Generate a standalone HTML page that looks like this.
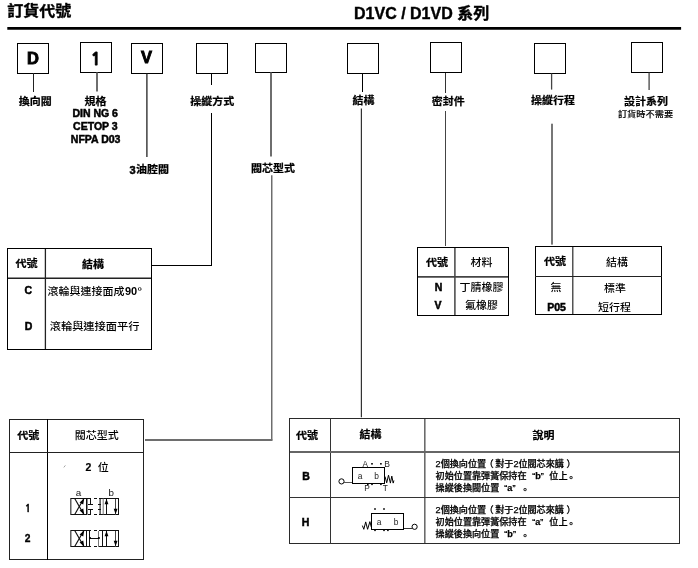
<!DOCTYPE html>
<html lang="zh-Hant">
<head>
<meta charset="utf-8">
<title>訂貨代號 D1VC / D1VD 系列</title>
<style>
html,body{margin:0;padding:0;background:#fff;}
body{width:698px;height:568px;overflow:hidden;}
svg{display:block;will-change:transform;}
text{font-family:"Liberation Sans","Noto Sans CJK TC","Noto Sans CJK SC",sans-serif;}
</style>
</head>
<body>
<svg width="698" height="568" viewBox="0 0 698 568">
<line x1="7.3" y1="28.45" x2="681.1" y2="28.45" stroke="#000" stroke-width="2.8"/>
<text transform="translate(7.3 16.1) scale(1 0.94)" font-size="16" font-weight="bold" text-anchor="start" fill="#000" stroke="#000" stroke-width="0.35">訂貨代號</text>
<text x="354" y="18.8" font-size="16" font-weight="bold" text-anchor="start" fill="#000" stroke="#000" stroke-width="0.4">D1VC / D1VD 系列</text>
<rect x="17.5" y="43.5" width="31" height="30" fill="none" stroke="#000" stroke-width="1" shape-rendering="crispEdges"/>
<rect x="80.5" y="42.5" width="31" height="30" fill="none" stroke="#000" stroke-width="1" shape-rendering="crispEdges"/>
<rect x="131.5" y="43.5" width="31" height="30" fill="none" stroke="#000" stroke-width="1" shape-rendering="crispEdges"/>
<rect x="196.5" y="43.5" width="31" height="30" fill="none" stroke="#000" stroke-width="1" shape-rendering="crispEdges"/>
<rect x="255.5" y="43.5" width="31" height="29" fill="none" stroke="#000" stroke-width="1" shape-rendering="crispEdges"/>
<rect x="347.5" y="43.5" width="31" height="30" fill="none" stroke="#000" stroke-width="1" shape-rendering="crispEdges"/>
<rect x="430.5" y="42.5" width="31" height="30" fill="none" stroke="#000" stroke-width="1" shape-rendering="crispEdges"/>
<rect x="534.5" y="43.5" width="31" height="30" fill="none" stroke="#000" stroke-width="1" shape-rendering="crispEdges"/>
<rect x="631.5" y="42.5" width="31" height="30" fill="none" stroke="#000" stroke-width="1" shape-rendering="crispEdges"/>
<text x="33" y="63.7" font-size="16.5" font-weight="bold" text-anchor="middle" fill="#000" stroke="#000" stroke-width="0.9">D</text>
<text x="95.8" y="64.5" font-size="17.5" font-weight="bold" text-anchor="middle" fill="#000" stroke="#000" stroke-width="0.9" style="font-family:NanumGothic,'Liberation Sans',sans-serif">1</text>
<text x="146.5" y="63.2" font-size="16.5" font-weight="bold" text-anchor="middle" fill="#000" stroke="#000" stroke-width="0.9">V</text>
<line x1="33.5" y1="73" x2="33.5" y2="92" stroke="#222" stroke-width="1" shape-rendering="crispEdges"/>
<text transform="translate(35.3 104.8) scale(1 0.9)" font-size="11" font-weight="bold" text-anchor="middle" fill="#000" stroke="#000" stroke-width="0.25">換向閥</text>
<rect x="96" y="72.5" width="2" height="19" fill="#6e6e6e"/>
<text transform="translate(95.6 104.6) scale(1 0.9)" font-size="11" font-weight="bold" text-anchor="middle" fill="#000" stroke="#000" stroke-width="0.25">規格</text>
<text x="95.2" y="117.1" font-size="10.5" font-weight="bold" text-anchor="middle" fill="#000" stroke="#000" stroke-width="0.5">DIN NG 6</text>
<text x="95.4" y="130.1" font-size="10.5" font-weight="bold" text-anchor="middle" fill="#000" stroke="#000" stroke-width="0.5">CETOP 3</text>
<text x="95.6" y="142.7" font-size="10.5" font-weight="bold" text-anchor="middle" fill="#000" stroke="#000" stroke-width="0.5">NFPA D03</text>
<line x1="146.9" y1="73.5" x2="146.9" y2="157" stroke="#222" stroke-width="1.3"/>
<text x="135.7" y="173.8" font-size="11" font-weight="bold" text-anchor="end" fill="#000" stroke="#000" stroke-width="0.5">3</text>
<text transform="translate(136 173) scale(1 0.9)" font-size="11" font-weight="bold" text-anchor="start" fill="#000" stroke="#000" stroke-width="0.25">油腔閥</text>
<line x1="211.5" y1="73" x2="211.5" y2="85" stroke="#000" stroke-width="1" shape-rendering="crispEdges"/>
<text transform="translate(212.2 104.8) scale(1 0.9)" font-size="11" font-weight="bold" text-anchor="middle" fill="#000" stroke="#000" stroke-width="0.25">操縱方式</text>
<line x1="211.5" y1="113" x2="211.5" y2="266" stroke="#000" stroke-width="1" shape-rendering="crispEdges"/>
<line x1="152" y1="265.5" x2="212" y2="265.5" stroke="#000" stroke-width="1" shape-rendering="crispEdges"/>
<rect x="270" y="72.5" width="2" height="84" fill="#6e6e6e"/>
<text transform="translate(273 171.7) scale(1 0.9)" font-size="11" font-weight="bold" text-anchor="middle" fill="#000" stroke="#000" stroke-width="0.25">閥芯型式</text>
<line x1="271.8" y1="175.2" x2="271.8" y2="440.5" stroke="#444" stroke-width="1.15"/>
<rect x="145" y="439" width="127.4" height="2" fill="#6e6e6e"/>
<line x1="362.5" y1="73" x2="362.5" y2="92" stroke="#000" stroke-width="1" shape-rendering="crispEdges"/>
<text transform="translate(363.5 104) scale(1 0.9)" font-size="11" font-weight="bold" text-anchor="middle" fill="#000" stroke="#000" stroke-width="0.25">結構</text>
<line x1="361.4" y1="108.5" x2="361.4" y2="417.2" stroke="#333" stroke-width="1.2"/>
<line x1="445.5" y1="72.5" x2="445.5" y2="93" stroke="#333" stroke-width="1" shape-rendering="crispEdges"/>
<text transform="translate(448.3 105.3) scale(1 0.9)" font-size="11" font-weight="bold" text-anchor="middle" fill="#000" stroke="#000" stroke-width="0.25">密封件</text>
<line x1="445.5" y1="110.6" x2="445.5" y2="246" stroke="#444" stroke-width="1" shape-rendering="crispEdges"/>
<line x1="551.6" y1="73.5" x2="551.6" y2="89.6" stroke="#444" stroke-width="1.3"/>
<text transform="translate(552.9 103.9) scale(1 0.9)" font-size="11" font-weight="bold" text-anchor="middle" fill="#000" stroke="#000" stroke-width="0.25">操縱行程</text>
<rect x="551" y="123.7" width="2" height="120.9" fill="#777"/>
<line x1="649.1" y1="72.5" x2="649.1" y2="90" stroke="#444" stroke-width="1.3"/>
<text transform="translate(646 105.3) scale(1 0.9)" font-size="11" font-weight="bold" text-anchor="middle" fill="#000" stroke="#000" stroke-width="0.25">設計系列</text>
<text transform="translate(645.5 117) scale(1 0.9)" font-size="9.2" font-weight="500" text-anchor="middle" fill="#000" stroke="#000" stroke-width="0.15">訂貨時不需要</text>
<rect x="7.5" y="248.5" width="144" height="101" fill="none" stroke="#000" stroke-width="1" shape-rendering="crispEdges"/>
<line x1="45.4" y1="249" x2="45.4" y2="349" stroke="#222" stroke-width="1.3"/>
<line x1="8" y1="278.25" x2="151" y2="278.25" stroke="#222" stroke-width="1.5"/>
<text transform="translate(26.5 266.8) scale(1 0.9)" font-size="11" font-weight="bold" text-anchor="middle" fill="#000" stroke="#000" stroke-width="0.25">代號</text>
<text transform="translate(93 268.3) scale(1 0.9)" font-size="11" font-weight="bold" text-anchor="middle" fill="#000" stroke="#000" stroke-width="0.25">結構</text>
<text x="28.2" y="294.1" font-size="10.5" font-weight="bold" text-anchor="middle" fill="#000" stroke="#000" stroke-width="0.5">C</text>
<text x="28.5" y="330" font-size="10.5" font-weight="bold" text-anchor="middle" fill="#000" stroke="#000" stroke-width="0.5">D</text>
<text transform="translate(47.6 294.8) scale(1 0.9)" font-size="11" font-weight="500" text-anchor="start" fill="#000">滾輪與連接面成</text>
<text x="125" y="295" font-size="11" font-weight="bold" text-anchor="start" fill="#000">90</text>
<text x="137.9" y="294.4" font-size="9.5" font-weight="normal" text-anchor="start" fill="#000" stroke="#000" stroke-width="0.2">º</text>
<text transform="translate(94.6 329.8) scale(1 0.9)" font-size="11.25" font-weight="500" text-anchor="middle" fill="#000">滾輪與連接面平行</text>
<rect x="417.5" y="247.5" width="91" height="68" fill="none" stroke="#000" stroke-width="1" shape-rendering="crispEdges"/>
<line x1="454.9" y1="248" x2="454.9" y2="315" stroke="#444" stroke-width="1.5"/>
<line x1="418" y1="276.8" x2="508" y2="276.8" stroke="#444" stroke-width="1.8"/>
<text transform="translate(437 266.3) scale(1 0.9)" font-size="11" font-weight="bold" text-anchor="middle" fill="#000" stroke="#000" stroke-width="0.25">代號</text>
<text transform="translate(481.5 266.3) scale(1 0.9)" font-size="11" font-weight="500" text-anchor="middle" fill="#000">材料</text>
<text x="438.5" y="291" font-size="10.5" font-weight="bold" text-anchor="middle" fill="#000" stroke="#000" stroke-width="0.5">N</text>
<text x="438" y="309" font-size="10.5" font-weight="bold" text-anchor="middle" fill="#000" stroke="#000" stroke-width="0.5">V</text>
<text transform="translate(481.5 291.3) scale(1 0.9)" font-size="11" font-weight="500" text-anchor="middle" fill="#000">丁腈橡膠</text>
<text transform="translate(481.5 308.8) scale(1 0.9)" font-size="11" font-weight="500" text-anchor="middle" fill="#000">氟橡膠</text>
<rect x="535.5" y="246.5" width="126" height="68" fill="none" stroke="#000" stroke-width="1" shape-rendering="crispEdges"/>
<line x1="572.8" y1="247" x2="572.8" y2="314" stroke="#2a2a2a" stroke-width="1.2"/>
<line x1="535" y1="276.5" x2="662" y2="276.5" stroke="#222" stroke-width="1" shape-rendering="crispEdges"/>
<text transform="translate(555 265.3) scale(1 0.9)" font-size="11" font-weight="bold" text-anchor="middle" fill="#000" stroke="#000" stroke-width="0.25">代號</text>
<text transform="translate(617 266.3) scale(1 0.9)" font-size="11" font-weight="500" text-anchor="middle" fill="#000">結構</text>
<text transform="translate(556 291.3) scale(1 0.9)" font-size="11" font-weight="500" text-anchor="middle" fill="#000">無</text>
<text x="556.5" y="311" font-size="10.5" font-weight="bold" text-anchor="middle" fill="#000" stroke="#000" stroke-width="0.5">P05</text>
<text transform="translate(615 291.8) scale(1 0.9)" font-size="11" font-weight="500" text-anchor="middle" fill="#000">標準</text>
<text transform="translate(614.5 310.9) scale(1 0.9)" font-size="11" font-weight="500" text-anchor="middle" fill="#000">短行程</text>
<rect x="9.5" y="419.5" width="134" height="140" fill="none" stroke="#222" stroke-width="1" shape-rendering="crispEdges"/>
<line x1="47.5" y1="419" x2="47.5" y2="560" stroke="#000" stroke-width="1" shape-rendering="crispEdges"/>
<line x1="9" y1="452.5" x2="144" y2="452.5" stroke="#222" stroke-width="1" shape-rendering="crispEdges"/>
<text transform="translate(28.3 438.8) scale(1 0.9)" font-size="11" font-weight="bold" text-anchor="middle" fill="#000" stroke="#000" stroke-width="0.25">代號</text>
<text transform="translate(96.8 438.8) scale(1 0.9)" font-size="11" font-weight="500" text-anchor="middle" fill="#000">閥芯型式</text>
<text x="88.3" y="470.9" font-size="10.5" font-weight="bold" text-anchor="middle" fill="#000" stroke="#000" stroke-width="0.2">2</text>
<text transform="translate(103.2 470.8) scale(1 0.9)" font-size="11" font-weight="500" text-anchor="middle" fill="#000">位</text>
<line x1="63.8" y1="467.4" x2="65.4" y2="465.4" stroke="#999" stroke-width="0.9"/>
<text x="27.9" y="512" font-size="10.5" font-weight="bold" text-anchor="middle" fill="#000" stroke="#000" stroke-width="0.4" style="font-family:NanumGothic,'Liberation Sans',sans-serif">1</text>
<text x="27.7" y="541.7" font-size="10.3" font-weight="bold" text-anchor="middle" fill="#000" stroke="#000" stroke-width="0.3">2</text>
<text x="78.6" y="495.6" font-size="9.8" font-weight="normal" text-anchor="middle" fill="#111">a</text>
<text x="111.2" y="495.6" font-size="9.8" font-weight="normal" text-anchor="middle" fill="#111">b</text>
<line x1="70.8" y1="498" x2="70.8" y2="515" stroke="#444" stroke-width="1.3"/>
<line x1="70.5" y1="498.5" x2="91" y2="498.5" stroke="#111" stroke-width="1" shape-rendering="crispEdges"/>
<line x1="70.5" y1="514.5" x2="91" y2="514.5" stroke="#111" stroke-width="1" shape-rendering="crispEdges"/>
<line x1="86.5" y1="498.5" x2="86.5" y2="514.5" stroke="#111" stroke-width="1" shape-rendering="crispEdges"/>
<line x1="74.7" y1="514.5" x2="83.9" y2="498.5" stroke="#111" stroke-width="1.15"/>
<line x1="74.7" y1="498.5" x2="83.9" y2="514.5" stroke="#111" stroke-width="1.15"/>
<polygon points="84.2,498.6 83.23,504.5 79.59,502.41" fill="#000"/>
<polygon points="84.2,514.4 79.59,510.59 83.23,508.5" fill="#000"/>
<line x1="93.5" y1="498.5" x2="97" y2="498.5" stroke="#111" stroke-width="1" shape-rendering="crispEdges"/>
<line x1="93.5" y1="514.5" x2="97" y2="514.5" stroke="#111" stroke-width="1" shape-rendering="crispEdges"/>
<line x1="99" y1="498.5" x2="119" y2="498.5" stroke="#111" stroke-width="1" shape-rendering="crispEdges"/>
<line x1="99" y1="514.5" x2="119" y2="514.5" stroke="#111" stroke-width="1" shape-rendering="crispEdges"/>
<line x1="118.5" y1="498.5" x2="118.5" y2="514.5" stroke="#111" stroke-width="1" shape-rendering="crispEdges"/>
<line x1="106.5" y1="498.5" x2="106.5" y2="514.5" stroke="#111" stroke-width="1" shape-rendering="crispEdges"/>
<polygon points="106.5,498.7 104.6,504.3 108.4,504.3" fill="#000"/>
<line x1="115.5" y1="498.5" x2="115.5" y2="514.5" stroke="#444" stroke-width="1" shape-rendering="crispEdges"/>
<polygon points="115.6,514.3 113.7,508.7 117.5,508.7" fill="#000"/>
<line x1="87.5" y1="498.5" x2="87.5" y2="514.5" stroke="#888" stroke-width="1" shape-rendering="crispEdges"/>
<line x1="90.5" y1="498.5" x2="90.5" y2="504.5" stroke="#111" stroke-width="1" shape-rendering="crispEdges"/>
<line x1="88" y1="504" x2="92.5" y2="504" stroke="#111" stroke-width="1" shape-rendering="crispEdges"/>
<line x1="90.5" y1="508.5" x2="90.5" y2="514.5" stroke="#111" stroke-width="1" shape-rendering="crispEdges"/>
<line x1="88" y1="509" x2="92.5" y2="509" stroke="#111" stroke-width="1" shape-rendering="crispEdges"/>
<line x1="98" y1="504" x2="101" y2="504" stroke="#111" stroke-width="1" shape-rendering="crispEdges"/>
<line x1="98" y1="509" x2="101" y2="509" stroke="#111" stroke-width="1" shape-rendering="crispEdges"/>
<line x1="100.1" y1="498.5" x2="100.1" y2="514.5" stroke="#111" stroke-width="1.1"/>
<line x1="103.2" y1="498.5" x2="103.2" y2="514.5" stroke="#777" stroke-width="1"/>
<line x1="70.8" y1="530" x2="70.8" y2="547" stroke="#444" stroke-width="1.3"/>
<line x1="70.5" y1="530.5" x2="91" y2="530.5" stroke="#111" stroke-width="1" shape-rendering="crispEdges"/>
<line x1="70.5" y1="546.5" x2="91" y2="546.5" stroke="#111" stroke-width="1" shape-rendering="crispEdges"/>
<line x1="86.5" y1="530.5" x2="86.5" y2="546.5" stroke="#111" stroke-width="1" shape-rendering="crispEdges"/>
<line x1="74.7" y1="546.5" x2="83.9" y2="530.5" stroke="#111" stroke-width="1.15"/>
<line x1="74.7" y1="530.5" x2="83.9" y2="546.5" stroke="#111" stroke-width="1.15"/>
<polygon points="84.2,530.6 83.23,536.5 79.59,534.41" fill="#000"/>
<polygon points="84.2,546.4 79.59,542.59 83.23,540.5" fill="#000"/>
<line x1="93.5" y1="530.5" x2="97" y2="530.5" stroke="#111" stroke-width="1" shape-rendering="crispEdges"/>
<line x1="93.5" y1="546.5" x2="97" y2="546.5" stroke="#111" stroke-width="1" shape-rendering="crispEdges"/>
<line x1="99" y1="530.5" x2="119" y2="530.5" stroke="#111" stroke-width="1" shape-rendering="crispEdges"/>
<line x1="99" y1="546.5" x2="119" y2="546.5" stroke="#111" stroke-width="1" shape-rendering="crispEdges"/>
<line x1="118.5" y1="530.5" x2="118.5" y2="546.5" stroke="#111" stroke-width="1" shape-rendering="crispEdges"/>
<line x1="106.5" y1="530.5" x2="106.5" y2="546.5" stroke="#111" stroke-width="1" shape-rendering="crispEdges"/>
<polygon points="106.5,530.7 104.6,536.3 108.4,536.3" fill="#000"/>
<line x1="115.5" y1="530.5" x2="115.5" y2="546.5" stroke="#444" stroke-width="1" shape-rendering="crispEdges"/>
<polygon points="115.6,546.3 113.7,540.7 117.5,540.7" fill="#000"/>
<line x1="89.5" y1="530.5" x2="89.5" y2="546.5" stroke="#111" stroke-width="1" shape-rendering="crispEdges"/>
<line x1="98.5" y1="530.5" x2="98.5" y2="546.5" stroke="#777" stroke-width="1" shape-rendering="crispEdges"/>
<line x1="102.5" y1="530.5" x2="102.5" y2="546.5" stroke="#111" stroke-width="1" shape-rendering="crispEdges"/>
<line x1="89.5" y1="538" x2="99" y2="538" stroke="#111" stroke-width="1" shape-rendering="crispEdges"/>
<circle cx="90" cy="538" r="1.1" fill="#000" stroke="#000" stroke-width="0"/>
<circle cx="98.9" cy="538" r="1.1" fill="#000" stroke="#000" stroke-width="0"/>
<rect x="289.5" y="418.5" width="390" height="125" fill="none" stroke="#2a2a2a" stroke-width="1" shape-rendering="crispEdges"/>
<line x1="330.5" y1="418" x2="330.5" y2="544" stroke="#333" stroke-width="1" shape-rendering="crispEdges"/>
<line x1="424.85" y1="419" x2="424.85" y2="543" stroke="#333" stroke-width="1.15"/>
<rect x="290" y="451" width="389" height="2" fill="#666"/>
<line x1="289" y1="497.5" x2="680" y2="497.5" stroke="#333" stroke-width="1" shape-rendering="crispEdges"/>
<text transform="translate(307 438.6) scale(1 0.9)" font-size="11" font-weight="bold" text-anchor="middle" fill="#000" stroke="#000" stroke-width="0.25">代號</text>
<text transform="translate(370.5 438.3) scale(1 0.9)" font-size="11" font-weight="bold" text-anchor="middle" fill="#000" stroke="#000" stroke-width="0.25">結構</text>
<text transform="translate(543.5 438.8) scale(1 0.9)" font-size="11" font-weight="bold" text-anchor="middle" fill="#000" stroke="#000" stroke-width="0.25">說明</text>
<text x="306" y="480" font-size="10.5" font-weight="bold" text-anchor="middle" fill="#000" stroke="#000" stroke-width="0.5">B</text>
<text x="305.5" y="526" font-size="10.5" font-weight="bold" text-anchor="middle" fill="#000" stroke="#000" stroke-width="0.5">H</text>
<text y="466.8" font-size="9.1" font-weight="500" fill="#000" stroke="#000" stroke-width="0.25"><tspan x="435.6">2個換向位置</tspan><tspan x="484.6">（</tspan><tspan x="495.2">對于2位閥芯來講</tspan><tspan x="566.6">）</tspan></text>
<text y="478.7" font-size="9.1" font-weight="500" fill="#000" stroke="#000" stroke-width="0.25"><tspan x="435.6">初始位置靠彈簧保持在</tspan><tspan x="532.2" font-weight="normal">“<tspan font-weight="bold">b</tspan>”</tspan><tspan x="549.3">位上</tspan><tspan x="566.4" dy="2.3">。</tspan></text>
<text y="490.6" font-size="9.1" font-weight="500" fill="#000" stroke="#000" stroke-width="0.25"><tspan x="435.6">操縱後換閥位置</tspan><tspan x="504.3" font-weight="normal">“<tspan font-weight="bold">a</tspan>”</tspan><tspan x="520.4" dy="2.3">。</tspan></text>
<text y="513.2" font-size="9.1" font-weight="500" fill="#000" stroke="#000" stroke-width="0.25"><tspan x="435.6">2個換向位置</tspan><tspan x="484.6">（</tspan><tspan x="495.2">對于2位閥芯來講</tspan><tspan x="566.6">）</tspan></text>
<text y="525.1" font-size="9.1" font-weight="500" fill="#000" stroke="#000" stroke-width="0.25"><tspan x="435.6">初始位置靠彈簧保持在</tspan><tspan x="532.2" font-weight="normal">“<tspan font-weight="bold">a</tspan>”</tspan><tspan x="549.3">位上</tspan><tspan x="566.4" dy="2.3">。</tspan></text>
<text y="537" font-size="9.1" font-weight="500" fill="#000" stroke="#000" stroke-width="0.25"><tspan x="435.6">操縱後換向位置</tspan><tspan x="504.3" font-weight="normal">“<tspan font-weight="bold">b</tspan>”</tspan><tspan x="520.4" dy="2.3">。</tspan></text>
<rect x="352.5" y="467.5" width="32" height="16" fill="none" stroke="#000" stroke-width="1" shape-rendering="crispEdges"/>
<circle cx="341.5" cy="481.4" r="2.6" fill="none" stroke="#000" stroke-width="1"/>
<line x1="344" y1="482.5" x2="352" y2="482.5" stroke="#555" stroke-width="1" shape-rendering="crispEdges"/>
<polyline points="385,476.5 386.7,482.8 388.5,475.2 390.4,483.1 391.8,476.1 393.2,483.1 393.9,480.5" fill="none" stroke="#000" stroke-width="1" stroke-linejoin="miter"/>
<text x="365.3" y="467.1" font-size="8.2" font-weight="normal" text-anchor="middle" fill="#222">A</text>
<text x="387.2" y="466.5" font-size="8.5" font-weight="normal" text-anchor="middle" fill="#222">B</text>
<rect x="371.2" y="463" width="1.6" height="1.6" fill="#000"/>
<rect x="380.1" y="463" width="1.6" height="1.6" fill="#000"/>
<text x="366.9" y="490.7" font-size="8.3" font-weight="normal" text-anchor="middle" fill="#222">P</text>
<text x="385.4" y="490.9" font-size="8.3" font-weight="normal" text-anchor="middle" fill="#222">T</text>
<rect x="367" y="483.5" width="1.6" height="1.6" fill="#000"/>
<rect x="371.2" y="483.5" width="1.6" height="1.6" fill="#000"/>
<rect x="380.1" y="483.5" width="1.6" height="1.6" fill="#000"/>
<text x="360.1" y="478.8" font-size="8.4" font-weight="normal" text-anchor="middle" fill="#222">a</text>
<text x="376.7" y="478.8" font-size="8.4" font-weight="normal" text-anchor="middle" fill="#222">b</text>
<rect x="371.5" y="513.5" width="32" height="16" fill="none" stroke="#000" stroke-width="1" shape-rendering="crispEdges"/>
<circle cx="414.6" cy="526.8" r="2.6" fill="none" stroke="#000" stroke-width="1"/>
<line x1="404" y1="528.5" x2="412" y2="528.5" stroke="#333" stroke-width="1" shape-rendering="crispEdges"/>
<polyline points="362.4,525.6 363.8,529.3 365.7,521.9 367.6,529.3 369.9,521.6 371.3,527" fill="none" stroke="#000" stroke-width="1" stroke-linejoin="miter"/>
<rect x="374.2" y="508.2" width="1.6" height="1.6" fill="#000"/>
<rect x="383.2" y="508.2" width="1.6" height="1.6" fill="#000"/>
<rect x="374.2" y="529.5" width="1.6" height="1.6" fill="#000"/>
<rect x="383.2" y="529.5" width="1.6" height="1.6" fill="#000"/>
<rect x="387.1" y="529.5" width="1.6" height="1.6" fill="#000"/>
<text x="379" y="524.6" font-size="8.4" font-weight="normal" text-anchor="middle" fill="#222">a</text>
<text x="396" y="524.6" font-size="8.4" font-weight="normal" text-anchor="middle" fill="#222">b</text>
</svg>
</body>
</html>
